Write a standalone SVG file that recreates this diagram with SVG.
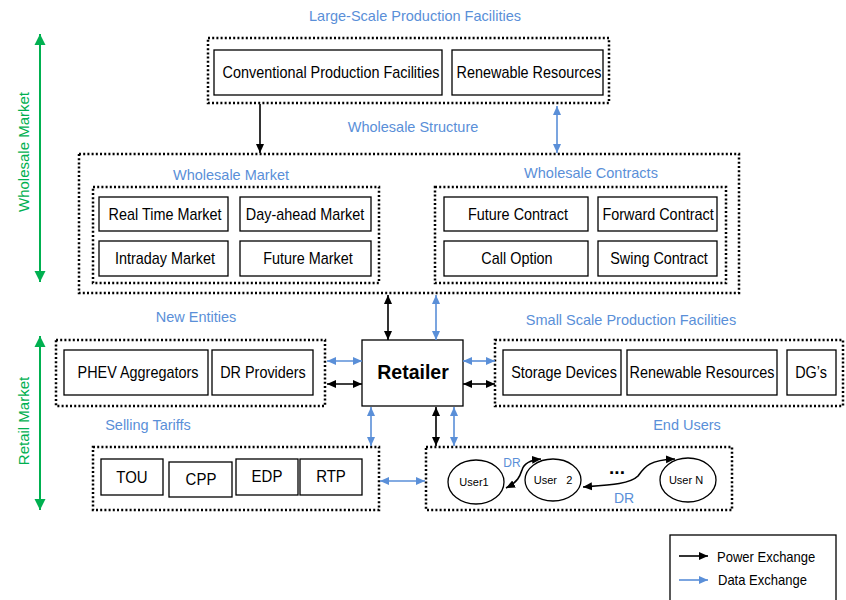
<svg xmlns="http://www.w3.org/2000/svg" width="846" height="600" viewBox="0 0 846 600">
<style>
  .dot{fill:none;stroke:#000;stroke-width:2.5;stroke-dasharray:2 2.2}
  .box{fill:#fff;stroke:#000;stroke-width:1.3}
  .t{font-family:"Liberation Sans",Arial,sans-serif;font-size:16px;fill:#000;text-anchor:middle;transform-box:fill-box;transform-origin:center;transform:scaleX(0.9)}
  .tt{font-family:"Liberation Sans",Arial,sans-serif;font-size:17px;fill:#000;text-anchor:middle;transform-box:fill-box;transform-origin:center;transform:scaleX(0.88)}
  .bt{font-family:"Liberation Sans",Arial,sans-serif;font-size:14.5px;fill:#5A8FD8;text-anchor:middle}
  .gt{font-family:"Liberation Sans",Arial,sans-serif;font-size:15px;fill:#00B050;text-anchor:middle}
  .u{font-family:"Liberation Sans",Arial,sans-serif;font-size:11px;fill:#000;text-anchor:middle}
  .lg{font-family:"Liberation Sans",Arial,sans-serif;font-size:14px;fill:#000;transform-box:fill-box;transform-origin:left;transform:scaleX(0.93)}
  .pk{stroke:#000;stroke-width:1.6;fill:none}
  .bl{stroke:#5A8FD8;stroke-width:1.6;fill:none}
  .gr{stroke:#00B050;stroke-width:2;fill:none}
</style>
<defs>
  <marker id="ak" markerUnits="userSpaceOnUse" markerWidth="10" markerHeight="10" refX="9" refY="5" orient="auto-start-reverse"><path d="M0,1 L9,5 L0,9 Z" fill="#000"/></marker>
  <marker id="ab" markerUnits="userSpaceOnUse" markerWidth="10" markerHeight="10" refX="9" refY="5" orient="auto-start-reverse"><path d="M0,1 L9,5 L0,9 Z" fill="#5A8FD8"/></marker>
  <marker id="ag" markerUnits="userSpaceOnUse" markerWidth="12" markerHeight="12" refX="11" refY="6" orient="auto-start-reverse"><path d="M0,0.5 L11,6 L0,11.5 Z" fill="#00B050"/></marker>
</defs>

<g id="side-labels">
  <line class="gr" x1="40" y1="34" x2="40" y2="282" marker-start="url(#ag)" marker-end="url(#ag)"/>
  <text class="gt" transform="translate(29,152) rotate(-90)">Wholesale Market</text>
  <line class="gr" x1="40" y1="336" x2="40" y2="510" marker-start="url(#ag)" marker-end="url(#ag)"/>
  <text class="gt" transform="translate(29,421) rotate(-90)">Retail Market</text>
</g>

<g id="large-scale">
  <text class="bt" x="415" y="21">Large-Scale Production Facilities</text>
  <rect class="dot" x="208" y="38" width="401" height="65"/>
  <g id="conventional"><rect class="box" x="214" y="50" width="228" height="45"/><text class="t" x="331" y="78">Conventional Production Facilities</text></g>
  <g id="renewable-large"><rect class="box" x="452" y="50" width="151" height="45"/><text class="t" x="529" y="78">Renewable Resources</text></g>
</g>

<text class="bt" x="413" y="132">Wholesale Structure</text>

<g id="wholesale">
  <rect class="dot" x="79" y="154" width="660" height="139"/>
  <g id="wholesale-market">
    <text class="bt" x="231" y="180">Wholesale Market</text>
    <rect class="dot" x="93" y="187" width="286" height="96"/>
    <g id="rtm"><rect class="box" x="99" y="197" width="129" height="34"/><text class="t" x="165" y="220">Real Time Market</text></g>
    <g id="dam"><rect class="box" x="240" y="197" width="131" height="34"/><text class="t" x="305" y="220">Day-ahead Market</text></g>
    <g id="idm"><rect class="box" x="99" y="241" width="129" height="35"/><text class="t" x="165" y="264">Intraday Market</text></g>
    <g id="fm"><rect class="box" x="240" y="241" width="131" height="35"/><text class="t" x="308" y="264">Future Market</text></g>
  </g>
  <g id="wholesale-contracts">
    <text class="bt" x="591" y="178">Wholesale Contracts</text>
    <rect class="dot" x="435" y="187" width="291" height="96"/>
    <g id="fc"><rect class="box" x="444" y="197" width="144" height="34"/><text class="t" x="518" y="220">Future Contract</text></g>
    <g id="fwc"><rect class="box" x="598" y="197" width="119" height="34"/><text class="t" x="658" y="220">Forward Contract</text></g>
    <g id="co"><rect class="box" x="444" y="241" width="144" height="35"/><text class="t" x="517" y="264">Call Option</text></g>
    <g id="sc"><rect class="box" x="598" y="241" width="119" height="35"/><text class="t" x="659" y="264">Swing Contract</text></g>
  </g>
</g>

<g id="retailer">
  <rect class="box" x="362" y="340" width="101" height="66"/>
  <text x="413" y="379" font-family="Liberation Sans,Arial,sans-serif" font-size="19.5" font-weight="bold" text-anchor="middle">Retailer</text>
</g>

<g id="new-entities">
  <text class="bt" x="196" y="322">New Entities</text>
  <rect class="dot" x="56" y="340" width="269" height="66"/>
  <g id="phev"><rect class="box" x="64" y="350" width="144" height="45"/><text class="t" x="138" y="378">PHEV Aggregators</text></g>
  <g id="drp"><rect class="box" x="212" y="350" width="101" height="45"/><text class="t" x="263" y="378">DR Providers</text></g>
</g>

<g id="small-scale">
  <text class="bt" x="631" y="325">Small Scale Production Facilities</text>
  <rect class="dot" x="495" y="340" width="348" height="66"/>
  <g id="storage"><rect class="box" x="503" y="350" width="118" height="45"/><text class="t" x="564" y="378">Storage Devices</text></g>
  <g id="renewable-small"><rect class="box" x="627" y="350" width="150" height="45"/><text class="t" x="702" y="378">Renewable Resources</text></g>
  <g id="dgs"><rect class="box" x="787" y="350" width="49" height="45"/><text class="t" x="811" y="378">DG’s</text></g>
</g>

<g id="selling-tariffs">
  <text class="bt" x="148" y="430">Selling Tariffs</text>
  <rect class="dot" x="93" y="447" width="286" height="63"/>
  <g id="tou"><rect class="box" x="101" y="459" width="62" height="36"/><text class="tt" x="132" y="483">TOU</text></g>
  <g id="cpp"><rect class="box" x="169" y="462" width="63" height="35"/><text class="tt" x="201" y="485">CPP</text></g>
  <g id="edp"><rect class="box" x="236" y="459" width="62" height="36"/><text class="tt" x="267" y="482">EDP</text></g>
  <g id="rtp"><rect class="box" x="300" y="459" width="62" height="36"/><text class="tt" x="331" y="482">RTP</text></g>
</g>

<g id="end-users">
  <text class="bt" x="687" y="430">End Users</text>
  <rect class="dot" x="426" y="447" width="306" height="63"/>
  <g id="user1"><ellipse cx="476" cy="482" rx="28" ry="22" fill="#fff" stroke="#000" stroke-width="1.3"/><text class="u" x="474" y="486">User1</text></g>
  <g id="user2"><ellipse cx="553" cy="480" rx="28" ry="21" fill="#fff" stroke="#000" stroke-width="1.3"/><text class="u" x="553" y="484" xml:space="preserve">User   2</text></g>
  <g id="usern"><ellipse cx="688" cy="480" rx="28" ry="22" fill="#fff" stroke="#000" stroke-width="1.3"/><text class="u" x="686" y="484">User N</text></g>
  <text x="617" y="474" font-family="Liberation Sans,Arial,sans-serif" font-size="19" font-weight="bold" text-anchor="middle">...</text>
  <text x="512" y="467" font-family="Liberation Sans,Arial,sans-serif" font-size="12" fill="#5A8FD8" text-anchor="middle">DR</text>
  <text x="624" y="503" font-family="Liberation Sans,Arial,sans-serif" font-size="14" fill="#5A8FD8" text-anchor="middle">DR</text>
</g>

<g id="connectors">
  <line class="pk" x1="260" y1="104" x2="260" y2="153" marker-end="url(#ak)"/>
  <line class="bl" x1="557" y1="106" x2="557" y2="153" marker-start="url(#ab)" marker-end="url(#ab)"/>
  <line class="pk" x1="388" y1="295" x2="388" y2="340" marker-start="url(#ak)" marker-end="url(#ak)"/>
  <line class="bl" x1="436" y1="295" x2="436" y2="340" marker-start="url(#ab)" marker-end="url(#ab)"/>
  <line class="bl" x1="327" y1="361" x2="362" y2="361" marker-start="url(#ab)" marker-end="url(#ab)"/>
  <line class="pk" x1="327" y1="384" x2="362" y2="384" marker-start="url(#ak)" marker-end="url(#ak)"/>
  <line class="bl" x1="463" y1="361" x2="495" y2="361" marker-start="url(#ab)" marker-end="url(#ab)"/>
  <line class="pk" x1="463" y1="384" x2="495" y2="384" marker-start="url(#ak)" marker-end="url(#ak)"/>
  <line class="bl" x1="371" y1="407" x2="371" y2="446" marker-start="url(#ab)" marker-end="url(#ab)"/>
  <line class="pk" x1="436" y1="407" x2="436" y2="446" marker-start="url(#ak)" marker-end="url(#ak)"/>
  <line class="bl" x1="454" y1="407" x2="454" y2="446" marker-start="url(#ab)" marker-end="url(#ab)"/>
  <line class="bl" x1="380" y1="481" x2="425" y2="481" marker-start="url(#ab)" marker-end="url(#ab)"/>
  <path class="pk" d="M506,488 C518,482 520,476 522,470 C524,463 530,460 541,459" marker-start="url(#ak)" marker-end="url(#ak)"/>
  <path class="pk" d="M583,487 C610,485 630,484 638,476 C645,466 650,460 675,459" marker-start="url(#ak)" marker-end="url(#ak)"/>
</g>

<g id="legend">
  <rect x="670" y="535" width="166" height="70" fill="#fff" stroke="#000" stroke-width="1.3"/>
  <line class="pk" x1="679" y1="556" x2="708" y2="556" marker-end="url(#ak)"/>
  <text class="lg" x="717" y="562">Power Exchange</text>
  <line class="bl" x1="679" y1="580" x2="708" y2="580" marker-end="url(#ab)"/>
  <text class="lg" x="718" y="585">Data Exchange</text>
</g>
</svg>
